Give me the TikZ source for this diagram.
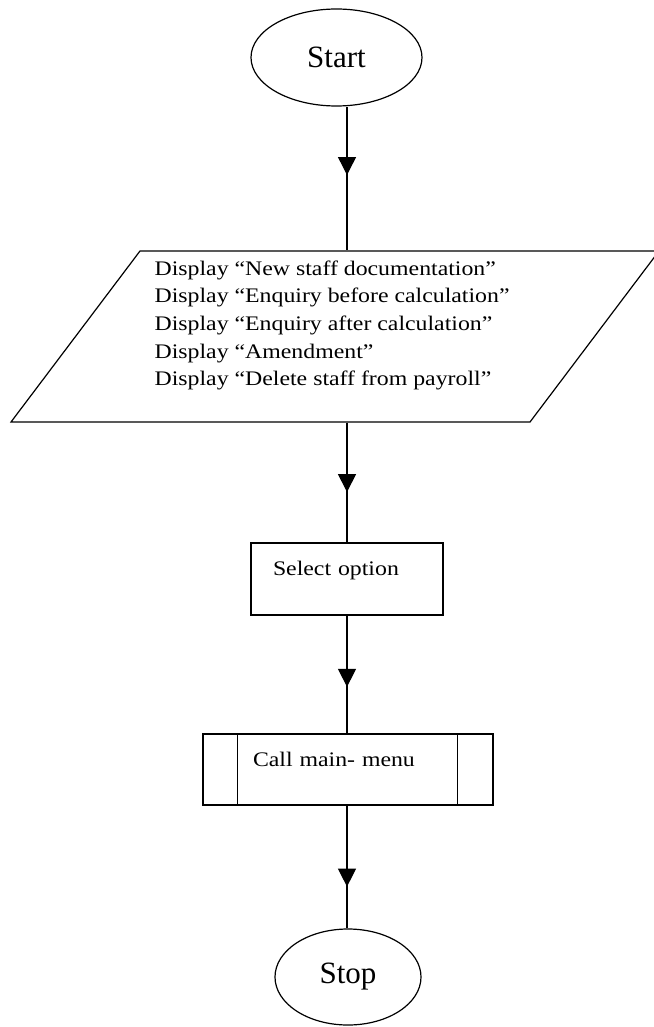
\documentclass[tikz,border=0pt]{standalone}
\usepackage{fontspec}
\setmainfont{Liberation Serif}
\newfontfamily\bodyfont[FakeStretch=1.15,Ligatures=TeX]{Liberation Serif}
\usetikzlibrary{shapes.geometric,arrows.meta,decorations.markings}

\tikzset{
  every path/.style={line width=1.2pt},
  terminal/.style={ellipse, draw, inner sep=0pt, font=\fontsize{31}{36}\selectfont},
  procbox/.style={rectangle, draw, inner ysep=0pt, align=left,
    font=\bodyfont\fontsize{20.7}{24}\selectfont},
  flow/.style={postaction={decorate}, decoration={markings,
    mark=at position #1 with {\arrow{Triangle[length=18pt,width=18pt]}}}}
}

\begin{document}
\begin{tikzpicture}[x=1pt,y=-1pt]
  \useasboundingbox (0,0) rectangle (653,1027);

  % terminals
  \node[terminal, minimum width=171pt, minimum height=97pt] (start) at (336.5,57.5) {Start};
  \node[terminal, minimum width=146pt, minimum height=96pt] (stop) at (348,977) {Stop};

  % display (input/output) block
  \node[minimum width=400pt, minimum height=171pt, inner sep=0pt] (disp) at (347,336.5) {};
  \draw (140,251) -- (659,251) -- (530,422) -- (11,422) -- cycle;
  \node[anchor=north west, inner sep=0pt, align=left,
        font=\bodyfont\fontsize{20.7}{27.7}\selectfont] (menu) at (154,260)
    {Display “New staff documentation”\\
     Display “Enquiry before calculation”\\
     Display “Enquiry after calculation”\\
     Display “Amendment”\\
     Display “Delete staff from payroll”};

  % process box
  \node[procbox, minimum width=192pt, minimum height=72pt, inner xsep=22pt,
        text width=148pt, text height=14pt, text depth=22pt] (sel) at (347,579) {Select option};

  % predefined process (subroutine call)
  \node[procbox, minimum width=290pt, minimum height=71pt, inner xsep=50pt,
        text width=190pt, text height=14pt, text depth=21pt] (call) at (348,769.5) {Call main- menu};
  \draw ([xshift=35pt]call.north west) -- ([xshift=35pt]call.south west);
  \draw ([xshift=-36pt]call.north east) -- ([xshift=-36pt]call.south east);

  % connectors
  \draw[flow=0.476] (start.south -| sel.north) -- (disp.north);
  \draw[flow=0.58] (disp.south) -- (sel.north);
  \draw[flow=0.605] (sel.south) -- (call.north -| sel.south);
  \draw[flow=0.66] (call.south -| sel.south) -- (stop.north -| sel.south);
\end{tikzpicture}
\end{document}
